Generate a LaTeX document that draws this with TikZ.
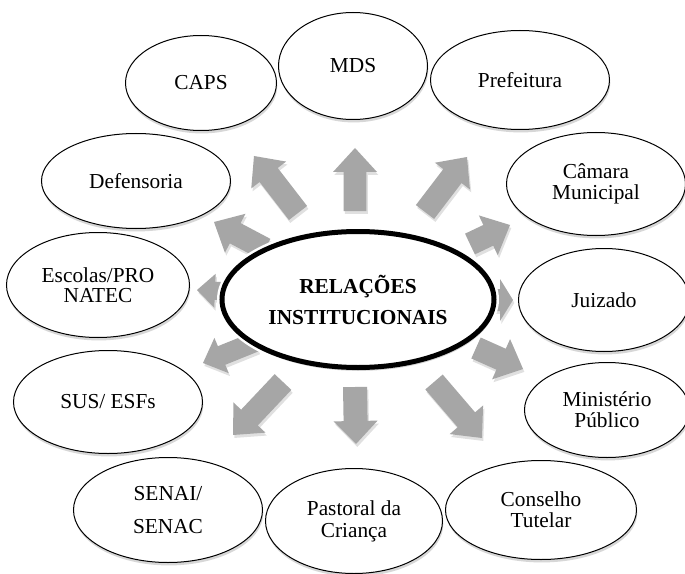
\documentclass[tikz,border=0pt]{standalone}
\usepackage{fontspec}
\setmainfont{Liberation Serif}
\usetikzlibrary{shapes.geometric,shadows,calc}
\definecolor{arrgray}{HTML}{A6A6A6}
% #1 style, #2 tail, #3 tip, #4 head length, #5 head half width, #6 shaft half width
\newcommand\blockarr[6]{%
  \coordinate (#3-b) at ($(#3)!#4!(#2)$);
  \fill[#1] ($(#2)!#6!90:(#3)$) -- ($(#3-b)!#6!90:(#3)$) -- ($(#3-b)!#5!90:(#3)$)
    -- (#3) -- ($(#3-b)!#5!-90:(#3)$) -- ($(#3-b)!#6!-90:(#3)$) -- ($(#2)!#6!-90:(#3)$) -- cycle;
}
\newcommand\allarrows[1]{%
  \blockarr{#1}{a1t}{a1h}{18pt}{16.5pt}{8.6pt}
  \blockarr{#1}{a2t}{a2h}{18pt}{16.5pt}{8.6pt}
  \blockarr{#1}{a3t}{a3h}{18pt}{16.5pt}{8.6pt}
  \blockarr{#1}{a4t}{a4h}{18pt}{16.5pt}{8.6pt}
  \blockarr{#1}{a5t}{a5h}{13.5pt}{12.75pt}{6.75pt}
  \blockarr{#1}{a6t}{a6h}{15pt}{14.25pt}{7.5pt}
  \blockarr{#1}{a7t}{a7h}{18pt}{16.5pt}{8.6pt}
  \blockarr{#1}{a8t}{a8h}{17.25pt}{16.5pt}{9pt}
  \blockarr{#1}{a9t}{a9h}{18pt}{16.5pt}{8.6pt}
  \blockarr{#1}{a10t}{a10h}{18pt}{16.5pt}{8.6pt}
  \blockarr{#1}{a11t}{a11h}{9.75pt}{15.75pt}{8.25pt}
  \blockarr{#1}{a12t}{a12h}{18pt}{16.5pt}{8.6pt}
}
\begin{document}
\begin{tikzpicture}[x=0.75pt,y=-0.75pt,
  inst/.style={ellipse, draw=black, line width=0.75pt, fill=white, inner sep=0pt,
    align=center, font=\fontsize{16}{15.75}\selectfont,
    drop shadow={shadow xshift=0.6pt, shadow yshift=-2.2pt, opacity=0.22, fill=black!70}},
  core/.style={ellipse, draw=black, line width=3.75pt, fill=white, inner sep=0pt,
    align=center, font=\bfseries\fontsize{16}{23.25}\selectfont,
    minimum width=204pt, minimum height=102pt,
    drop shadow={shadow xshift=0.8pt, shadow yshift=-2.5pt, opacity=0.25, fill=black!70}},
  halo/.style={fill=white},
  arrbody/.style={fill=arrgray},
  arrshade/.style={fill=black, opacity=0.12}]
\useasboundingbox (0,0) rectangle (685,574);
\fill[white] (0,0) rectangle (685,574);

% arrow end points
\coordinate (a1t) at (355,211);  \coordinate (a1h) at (355,148);
\coordinate (a2t) at (425,212);  \coordinate (a2h) at (467,157);
\coordinate (a3t) at (298,213);  \coordinate (a3h) at (254,156);
\coordinate (a4t) at (265,249);  \coordinate (a4h) at (214,222);
\coordinate (a5t) at (245,292);  \coordinate (a5h) at (197,290);
\coordinate (a6t) at (255,342);  \coordinate (a6h) at (203,363);
\coordinate (a7t) at (283,382);  \coordinate (a7h) at (233,435);
\coordinate (a8t) at (355,387);  \coordinate (a8h) at (356,444);
\coordinate (a9t) at (434,382);  \coordinate (a9h) at (482,438);
\coordinate (a10t) at (476,348); \coordinate (a10h) at (523,369);
\coordinate (a11t) at (470,300); \coordinate (a11h) at (513,300);
\coordinate (a12t) at (470,244); \coordinate (a12h) at (510,225);
\coordinate (relc) at (358,299.5);

\begin{scope}[transform canvas={shift={(1pt,-2.2pt)}}]
  \allarrows{arrshade}
\end{scope}
\allarrows{arrbody}

% white gap round the central ellipse
\fill[halo] (relc) ellipse [x radius=141, y radius=73.5];
\node[core] (rel) at (relc) {RELAÇÕES\\INSTITUCIONAIS};

\node[inst, minimum width=113.25pt, minimum height=71.25pt] (caps) at (201,83) {CAPS};
\node[inst, minimum width=111.75pt, minimum height=80.25pt] (mds) at (353,66) {MDS};
\node[inst, minimum width=134.25pt, minimum height=74.25pt] (pref) at (520,80) {Prefeitura};
\node[inst, minimum width=134.25pt, minimum height=77.25pt] (cam) at (596,184) {Câmara\\Municipal};
\node[inst, minimum width=128.25pt, minimum height=77.25pt] (juiz) at (604,300) {Juizado};
\node[inst, minimum width=123.75pt, minimum height=71.25pt] (mp) at (607,410) {Ministério\\Público};
\node[inst, minimum width=143.25pt, minimum height=74.25pt] (ct) at (541,510) {Conselho\\Tutelar};
\node[inst, minimum width=132.75pt, minimum height=78.75pt, font=\fontsize{16}{16.3}\selectfont] (past) at (354,521) {Pastoral da\\Criança};
\node[inst, minimum width=141.75pt, minimum height=78.75pt, font=\fontsize{16}{24.5}\selectfont] (senai) at (168,510) {SENAI/\\SENAC};
\node[inst, minimum width=141.75pt, minimum height=77.25pt] (sus) at (108,402) {SUS/ ESFs};
\node[inst, minimum width=137.25pt, minimum height=78.75pt, font=\fontsize{16}{15}\selectfont] (esc) at (98,285) {Escolas/PRO\\NATEC};
\node[inst, minimum width=141.75pt, minimum height=71.25pt] (def) at (136,181) {Defensoria};
\end{tikzpicture}
\end{document}
